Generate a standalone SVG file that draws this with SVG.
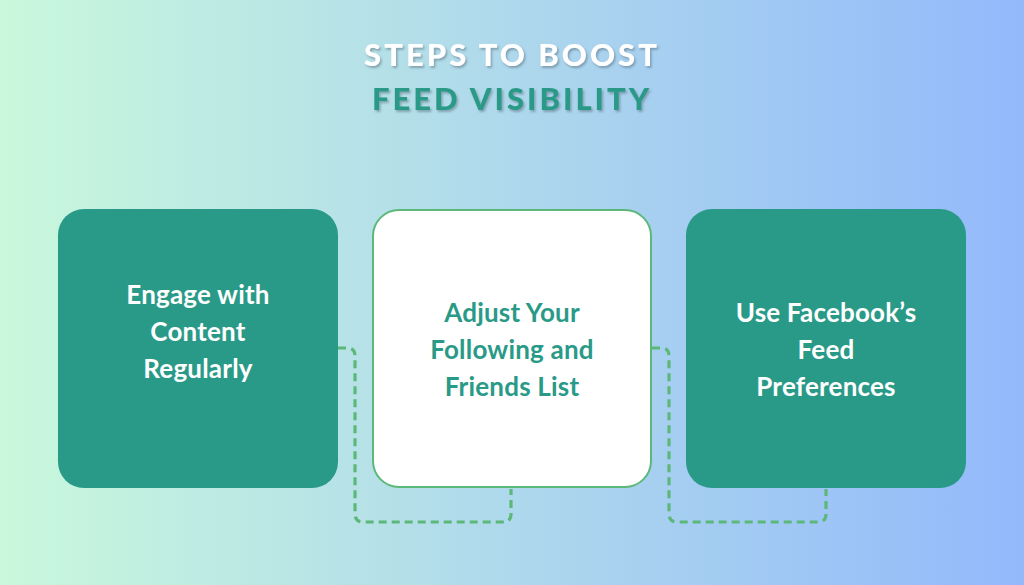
<svg xmlns="http://www.w3.org/2000/svg" width="1024" height="585" viewBox="0 0 1024 585">
<defs>
<linearGradient id="bg" x1="0" y1="0" x2="1" y2="0">
<stop offset="0" stop-color="#c9f8dc"/>
<stop offset="0.5" stop-color="#aed8ec"/>
<stop offset="1" stop-color="#93b9fb"/>
</linearGradient>
<filter id="sh" x="-10%" y="-30%" width="120%" height="160%">
<feDropShadow dx="1.5" dy="2" stdDeviation="0.8" flood-color="#5a7080" flood-opacity="0.55"/>
</filter>
<style>
.title{font-family:"Lato","Liberation Sans",sans-serif;font-weight:900;font-size:31px;letter-spacing:3px;text-anchor:middle}
.teal{fill:#2a9a88}
.white{fill:#ffffff;stroke:#5cb878;stroke-width:2}
.lbl{font-family:"Lato","Liberation Sans",sans-serif;font-weight:700;font-size:26px;letter-spacing:0.2px;text-anchor:middle}
.conn{fill:none;stroke:#5cb878;stroke-width:3.2;stroke-dasharray:8 5}
</style>
</defs>
<rect width="1024" height="585" fill="url(#bg)"/>
<g id="title" filter="url(#sh)">
<text class="title" x="512" y="66" fill="#ffffff">STEPS TO BOOST</text>
<text class="title" x="512" y="110" fill="#2a9a88">FEED VISIBILITY</text>
</g>
<g id="connectors">
<path class="conn" d="M338,348 H347 Q355,348 355,356 V514 Q355,522 363,522 H503 Q511,522 511,514 V489"/>
<path class="conn" d="M652,348 H661 Q669,348 669,356 V514 Q669,522 677,522 H818 Q826,522 826,514 V489"/>
</g>
<g id="node1">
<rect class="teal" x="58" y="209" width="280" height="279" rx="26"/>
<text class="lbl" fill="#ffffff"><tspan x="198" y="304">Engage with</tspan><tspan x="198" y="341">Content</tspan><tspan x="198" y="378">Regularly</tspan></text>
</g>
<g id="node2">
<rect class="white" x="373" y="210" width="278" height="277" rx="26"/>
<text class="lbl" fill="#2a9a88"><tspan x="512" y="322">Adjust Your</tspan><tspan x="512" y="359">Following and</tspan><tspan x="512" y="396">Friends List</tspan></text>
</g>
<g id="node3">
<rect class="teal" x="686" y="209" width="280" height="279" rx="26"/>
<text class="lbl" fill="#ffffff"><tspan x="826" y="322">Use Facebook’s</tspan><tspan x="826" y="359">Feed</tspan><tspan x="826" y="396">Preferences</tspan></text>
</g>
</svg>
